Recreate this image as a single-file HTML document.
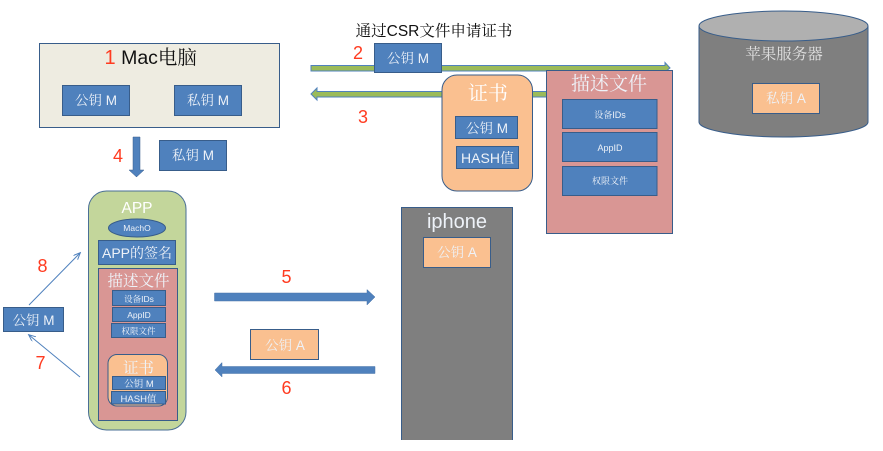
<!DOCTYPE html>
<html><head><meta charset="utf-8"><style>
html,body{margin:0;padding:0;background:#fff;width:883px;height:451px;overflow:hidden}
svg{display:block;filter:blur(.35px)}
text{font-family:"Liberation Sans","Noto Serif CJK SC",serif;text-anchor:middle;fill:#eef2f8}
.b{fill:#4f81bd;stroke:#385d8a;stroke-width:1}
.o{fill:#fac090;stroke:#385d8a;stroke-width:1}
.p{fill:#d99694;stroke:#385d8a;stroke-width:1}
.r{fill:#ff3b20;font-size:18px}
</style></head><body>
<svg width="883" height="451" viewBox="0 0 883 451" xmlns="http://www.w3.org/2000/svg">
<defs><marker id="m" markerWidth="8" markerHeight="8" refX="6.500" refY="3" orient="auto" markerUnits="userSpaceOnUse"><path d="M0,0L7,3L0,6" fill="none" stroke="#4f81bd" stroke-width="1"/></marker></defs>

<!-- Mac -->
<rect x="39.500" y="43.500" width="240" height="84" fill="#eeece1" stroke="#385d8a"/>
<text x="110" y="64" class="r" style="font-size:20px">1</text>
<text x="159" y="64" style="fill:#111;font-size:19.500px">Mac电脑</text>
<rect x="62.500" y="85.500" width="67" height="30" class="b"/><text x="96" y="105" font-size="13.500">公钥 M</text>
<rect x="174.500" y="85.500" width="67" height="30" class="b"/><text x="208" y="105" font-size="13.500">私钥 M</text>

<!-- Arrow 4 -->
<path d="M133,137H140V170H144L136.500,177L129,170H133Z" fill="#4f81bd" stroke="#385d8a" stroke-width=".5"/>
<text x="118" y="162" class="r">4</text>
<rect x="159.500" y="140.500" width="67" height="30" class="b"/><text x="193" y="160" font-size="13.500">私钥 M</text>

<!-- green arrows -->
<path d="M311,65.500H665V62.500L670,68L665,72V71H311Z" fill="#9bbb59" stroke="#4f81bd" stroke-width="1"/>
<path d="M550,91.500H317V88L311,94L317,100V97H550Z" fill="#9bbb59" stroke="#4f81bd" stroke-width="1"/>
<text x="434" y="36" style="fill:#111;font-size:15.500px">通过CSR文件申请证书</text>
<text x="358" y="59" class="r">2</text>
<text x="363" y="123" class="r">3</text>
<rect x="374.500" y="43.500" width="67" height="29" class="b"/><text x="408" y="63" font-size="13.500">公钥 M</text>

<!-- certificate -->
<rect x="442" y="75" width="90.500" height="116" rx="15" class="o"/>
<text x="488" y="100" font-size="20" style="fill:#fff">证书</text>
<rect x="455.500" y="116.500" width="62" height="22" class="b"/><text x="487" y="133" font-size="13.500">公钥 M</text>
<rect x="456.500" y="146.500" width="62" height="22" class="b"/><text x="487.500" y="163" font-size="14">HASH值</text>

<!-- profile -->
<rect x="546.500" y="70.500" width="126" height="163" class="p"/>
<text x="609" y="90" font-size="19">描述文件</text>
<rect x="562.500" y="99.500" width="94.500" height="29" class="b"/><text x="610" y="118" font-size="9">设备IDs</text>
<rect x="562.500" y="132.500" width="94.500" height="29" class="b"/><text x="610" y="151" font-size="9">AppID</text>
<rect x="562.500" y="166.500" width="94.500" height="29" class="b"/><text x="610" y="184" font-size="9">权限文件</text>

<!-- server -->
<path d="M699,26V122C699,130 737,137 783.500,137S868,130 868,122V26" fill="#7f7f7f" stroke="#385d8a"/>
<ellipse cx="783.500" cy="26" rx="84.500" ry="15" fill="#b0b0b0" stroke="#385d8a"/>
<text x="784" y="59" font-size="15.500" style="fill:#e0e0e0">苹果服务器</text>
<rect x="752.500" y="83.500" width="67" height="30" class="o"/><text x="786" y="103" font-size="13.500">私钥 A</text>

<!-- iphone -->
<path d="M401.500,440V207.500H512.500V440" fill="#7f7f7f" stroke="#385d8a"/>
<text x="457" y="228" font-size="20">iphone</text>
<rect x="423.500" y="237.500" width="67" height="30" class="o"/><text x="457" y="257" font-size="13.500">公钥 A</text>

<!-- arrows 5/6 -->
<path d="M214.500,293H367V289.500L375,297L367,305V301H214.500Z" fill="#4f81bd" stroke="#4a74a8" stroke-width=".5"/>
<path d="M375,366.500H222V362.500L215,370L222,377V373.500H375Z" fill="#4f81bd" stroke="#4a74a8" stroke-width=".5"/>
<text x="286.500" y="283" class="r">5</text>
<text x="286.500" y="394" class="r">6</text>
<rect x="250.500" y="329.500" width="68" height="30" class="o"/><text x="285" y="350" font-size="13.500">公钥 A</text>

<!-- APP -->
<rect x="88.500" y="191" width="97.500" height="239" rx="18" fill="#c3d69b" stroke="#4a6f96"/>
<text x="137" y="213" font-size="15.500" style="fill:#fff">APP</text>
<ellipse cx="137" cy="228" rx="28.500" ry="9" class="b"/><text x="137" y="231" font-size="8.500">MachO</text>
<rect x="98.500" y="240.500" width="77" height="24" class="b"/><text x="137" y="258" font-size="14">APP的签名</text>
<rect x="98.500" y="268.500" width="79" height="152" class="p"/>
<text x="138.500" y="286" font-size="15.500">描述文件</text>
<rect x="112.500" y="290.500" width="53" height="15" class="b"/><text x="139" y="302" font-size="8.500">设备IDs</text>
<rect x="112.500" y="307.500" width="53" height="14" class="b"/><text x="139" y="318" font-size="8.500">AppID</text>
<rect x="111.500" y="323.500" width="54" height="14" class="b"/><text x="138.500" y="334" font-size="8.500">权限文件</text>
<rect x="108" y="354.500" width="59.500" height="51.500" rx="9" class="o"/>
<text x="138.500" y="373" font-size="15.500">证书</text>
<rect x="112.500" y="376.500" width="53" height="13" class="b"/><text x="139" y="387" font-size="9.500">公钥 M</text>
<rect x="111.500" y="391.500" width="54" height="12.500" class="b"/><text x="138.500" y="402" font-size="9.500">HASH值</text>

<!-- left -->
<rect x="3.500" y="307.500" width="60" height="24" class="b"/><text x="33.500" y="325" font-size="13.500">公钥 M</text>
<line x1="29" y1="305" x2="80" y2="253" stroke="#4f81bd" marker-end="url(#m)"/>
<line x1="80" y1="377" x2="29" y2="335" stroke="#4f81bd" marker-end="url(#m)"/>
<text x="42.500" y="272" class="r">8</text>
<text x="40.500" y="369" class="r">7</text>
</svg>
</body></html>
